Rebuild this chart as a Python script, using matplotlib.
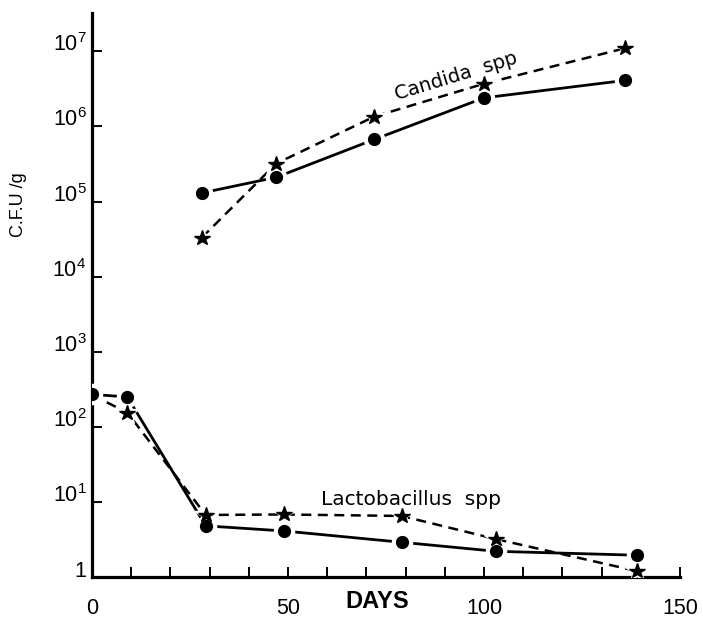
"""Candida and Lactobacillus counts (C.F.U/g) over days, log scale."""
import matplotlib
matplotlib.use('Agg')
import matplotlib.pyplot as plt

plt.rcParams['font.family'] = ['Liberation Sans', 'DejaVu Sans']
plt.rcParams['mathtext.fontset'] = 'custom'
plt.rcParams['mathtext.rm'] = 'Liberation Sans'
plt.rcParams['mathtext.default'] = 'regular'

# Candida spp
candida_days = [28, 47, 72, 100, 136]
candida_dots = [1.3e5, 2.1e5, 6.7e5, 2.4e6, 4.1e6]
candida_stars = [3.3e4, 3.2e5, 1.35e6, 3.7e6, 1.1e7]

# Lactobacillus spp
lacto_days = [0, 9, 29, 49, 79, 103, 139]
lacto_dots = [270, 250, 4.8, 4.1, 2.9, 2.2, 1.95]
lacto_stars = [265, 155, 6.7, 6.8, 6.5, 3.2, 1.2]

x_ticks = list(range(0, 151, 10))
x_labels = ['0', '', '', '', '', '50', '', '', '', '', '100', '', '', '', '', '150']
y_ticks = [1, 1e1, 1e2, 1e3, 1e4, 1e5, 1e6, 1e7]
y_labels = ['1'] + [r'$10^{%d}$' % i for i in range(1, 8)]

fig = plt.figure(figsize=(7.03, 6.2), dpi=100)
ax = fig.add_axes([92 / 703, 1 - 577 / 620, (680 - 92) / 703, (577 - 13) / 620])
ax.set_yscale('log')
ax.set_xlim(0, 150)
ax.set_ylim(1, 10 ** 7.51)

dash = (4, 2.6)


def draw_series(days, vals, marker, ms, line_kw, skip_first=False):
    ax.plot(days, vals, color='black', zorder=2, solid_capstyle='butt', **line_kw)
    every = list(range(1, len(days))) if skip_first else None
    # white halo gives the hand-drawn gap between line and marker
    ax.plot(days, vals, linestyle='none', marker=marker, ms=ms + 6,
            color='white', zorder=3, markevery=every)
    ax.plot(days, vals, linestyle='none', marker=marker, ms=ms,
            color='black', zorder=4, markevery=every)


draw_series(candida_days, candida_dots, 'o', 8.5, dict(lw=2.0))
draw_series(candida_days, candida_stars, '*', 11.5, dict(lw=1.8, dashes=dash))
draw_series(lacto_days, lacto_dots, 'o', 8.5, dict(lw=2.0))
draw_series(lacto_days, lacto_stars, '*', 11.5, dict(lw=1.8, dashes=dash), skip_first=True)

ax.text(93, 10 ** 6.67, 'Candida  spp', rotation=17, ha='center', va='center',
        fontsize=14, family='DejaVu Sans', zorder=5)
ax.text(81.5, 10 ** 1.03, 'Lactobacillus  spp', ha='center', va='center',
        fontsize=14.5, family='DejaVu Sans', zorder=5)

for side in ['top', 'right']:
    ax.spines[side].set_visible(False)
for side in ['left', 'bottom']:
    ax.spines[side].set_linewidth(2.3)

ax.set_xticks(x_ticks)
ax.set_xticklabels(x_labels, fontsize=15.5)
ax.set_yticks(y_ticks)
ax.set_yticklabels(y_labels, fontsize=15.5)
ax.minorticks_off()
ax.tick_params(axis='x', direction='in', length=7, width=1.4, pad=15)
ax.tick_params(axis='y', direction='in', length=7, width=1.4, pad=4)
for lab in ax.get_yticklabels():
    lab.set_verticalalignment('baseline')

ax.text(0.485, -0.044, 'DAYS', transform=ax.transAxes, ha='center', va='center',
        fontsize=17, fontweight='bold')
ax.text(-0.125, 0.661, 'C.F.U /g', transform=ax.transAxes, rotation=90,
        ha='center', va='center', fontsize=13)

fig.savefig('out.png', dpi=100)
